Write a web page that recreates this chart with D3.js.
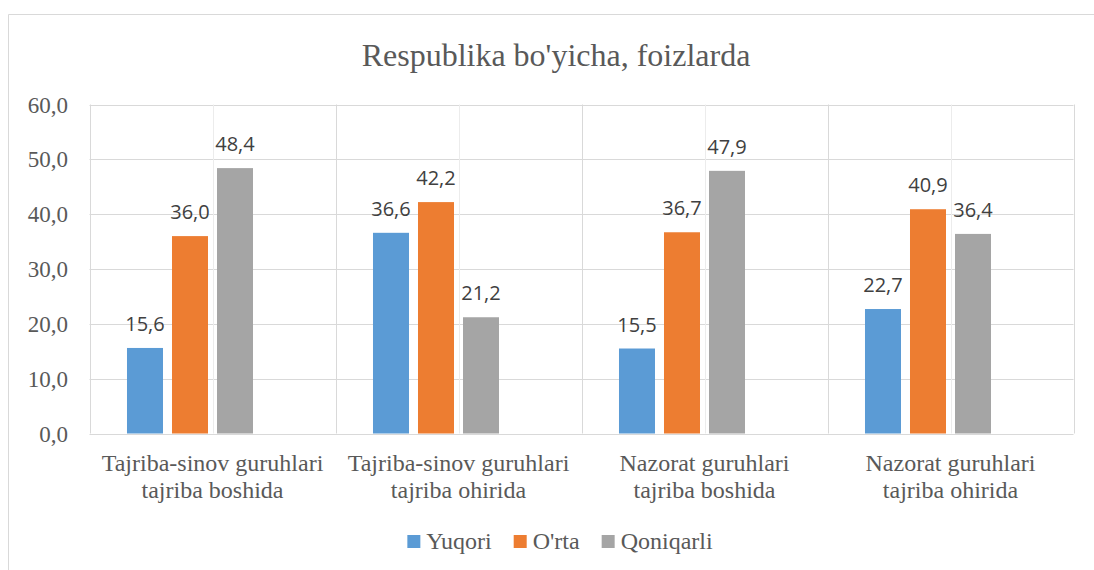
<!DOCTYPE html>
<html>
<head>
<meta charset="utf-8">
<script src="https://cdn.jsdelivr.net/npm/d3@7"></script>
<style>
  body { margin: 0; background: #fff; }
</style>
</head>
<body>
<svg></svg>
<script>
var categories = [
    ["Tajriba-sinov guruhlari", "tajriba boshida"],
    ["Tajriba-sinov guruhlari", "tajriba ohirida"],
    ["Nazorat guruhlari", "tajriba boshida"],
    ["Nazorat guruhlari", "tajriba ohirida"]
]
var series = ["Yuqori", "O'rta", "Qoniqarli"]
var yuqori = [15.6, 36.6, 15.5, 22.7]
var orta = [36.0, 42.2, 36.7, 40.9]
var qoniqarli = [48.4, 21.2, 47.9, 36.4]
var yTicks = [0, 10, 20, 30, 40, 50, 60]
var colors = ["#5B9BD5", "#ED7D31", "#A5A5A5"]

var values = [yuqori, orta, qoniqarli]

var svgWidth = 1094,
    svgHeight = 570

var svg = d3.select("svg")
    .attr("width", svgWidth)
    .attr("height", svgHeight)

var comma = (v) => d3.format(".1f")(v).replace(".", ",")

// outer chart border (only top and left show in the picture)
svg.append("path")
    .attr("d", "M8.5,570V14.5H1094")
    .attr("fill", "none")
    .attr("stroke", "#d9d9d9")

svg.append("text")
    .attr("x", 556)
    .attr("y", 66)
    .attr("text-anchor", "middle")
    .attr("font-family", "Liberation Serif")
    .attr("font-size", 32)
    .attr("fill", "#595959")
    .text("Respublika bo'yicha, foizlarda")

var plotLeft = 89.5, plotRight = 1073.5, plotTop = 104.5, plotBottom = 433.5

var x0 = d3.scaleBand()
    .domain(d3.range(categories.length))
    .range([plotLeft, plotRight])

// four slots per group, the last one stays empty
var x1 = d3.scaleBand()
    .domain(series.concat([""]))
    .range([0, x0.bandwidth()])
    .paddingInner(0.2)
    .paddingOuter(0.833)

var y = d3.scaleLinear()
    .domain([0, 60])
    .range([plotBottom, plotTop])

var grid = svg.append("g")

grid.selectAll(".hgrid")
    .data(yTicks)
    .enter()
    .append("line")
    .attr("x1", plotLeft).attr("x2", plotRight)
    .attr("y1", (d) => Math.round(y(d)) + 0.5)
    .attr("y2", (d) => Math.round(y(d)) + 0.5)
    .attr("stroke", "#d9d9d9")

grid.selectAll(".vgrid")
    .data(d3.range(categories.length + 1))
    .enter()
    .append("line")
    .attr("x1", (d) => Math.round(plotLeft + d * x0.step()) + 0.5)
    .attr("x2", (d) => Math.round(plotLeft + d * x0.step()) + 0.5)
    .attr("y1", plotTop).attr("y2", plotBottom)
    .attr("stroke", "#d9d9d9")

grid.selectAll(".mgrid")
    .data(d3.range(categories.length))
    .enter()
    .append("line")
    .attr("x1", (d) => Math.round(x0(d) + x0.bandwidth() / 2) + 0.5)
    .attr("x2", (d) => Math.round(x0(d) + x0.bandwidth() / 2) + 0.5)
    .attr("y1", plotTop).attr("y2", plotBottom)
    .attr("stroke", "#ececec")

// y tick labels
svg.selectAll(".ytick")
    .data(yTicks)
    .enter()
    .append("text")
    .attr("x", 68)
    .attr("y", (d) => y(d))
    .attr("dy", "0.35em")
    .attr("text-anchor", "end")
    .attr("font-family", "Liberation Serif")
    .attr("font-size", 23)
    .attr("fill", "#595959")
    .text(comma)

// bars
var group = svg.selectAll(".grp")
    .data(categories)
    .enter()
    .append("g")
    .attr("transform", (d, i) => "translate(" + x0(i) + ",0)")

series.forEach(function (s, si) {
    group.append("rect")
        .attr("x", (d, i) => x1(s))
        .attr("y", (d, i) => y(values[si][i]))
        .attr("width", x1.bandwidth())
        .attr("height", (d, i) => y(0) - y(values[si][i]))
        .attr("fill", colors[si])

    group.append("text")
        .attr("x", (d, i) => x1(s) + x1.bandwidth() / 2)
        .attr("y", (d, i) => y(values[si][i]) - 17)
        .attr("text-anchor", "middle")
        .attr("font-family", "Open Sans")
        .attr("font-size", 20)
        .attr("fill", "#404040")
        .text((d, i) => comma(values[si][i]))
})

// category labels
group.each(function (d) {
    var t = d3.select(this).append("text")
        .attr("text-anchor", "middle")
        .attr("font-family", "Liberation Serif")
        .attr("font-size", 24)
        .attr("fill", "#595959")
    d.forEach(function (line, li) {
        t.append("tspan")
            .attr("x", x0.bandwidth() / 2)
            .attr("y", 471 + li * 27)
            .text(line)
    })
})

// legend
var legend = svg.append("g")
var lx = 0
series.forEach(function (s, si) {
    var item = legend.append("g").attr("transform", "translate(" + lx + ",0)")
    item.append("rect")
        .attr("x", 0).attr("y", -6)
        .attr("width", 13).attr("height", 13)
        .attr("fill", colors[si])
    var txt = item.append("text")
        .attr("x", 19)
        .attr("y", 0)
        .attr("dy", "0.35em")
        .attr("font-family", "Liberation Serif")
        .attr("font-size", 24)
        .attr("fill", "#595959")
        .text(s)
    lx += 19 + txt.node().getComputedTextLength() + 22
})
var lw = lx - 22
legend.attr("transform", "translate(" + (560 - lw / 2) + ",541)")
</script>
</body>
</html>
